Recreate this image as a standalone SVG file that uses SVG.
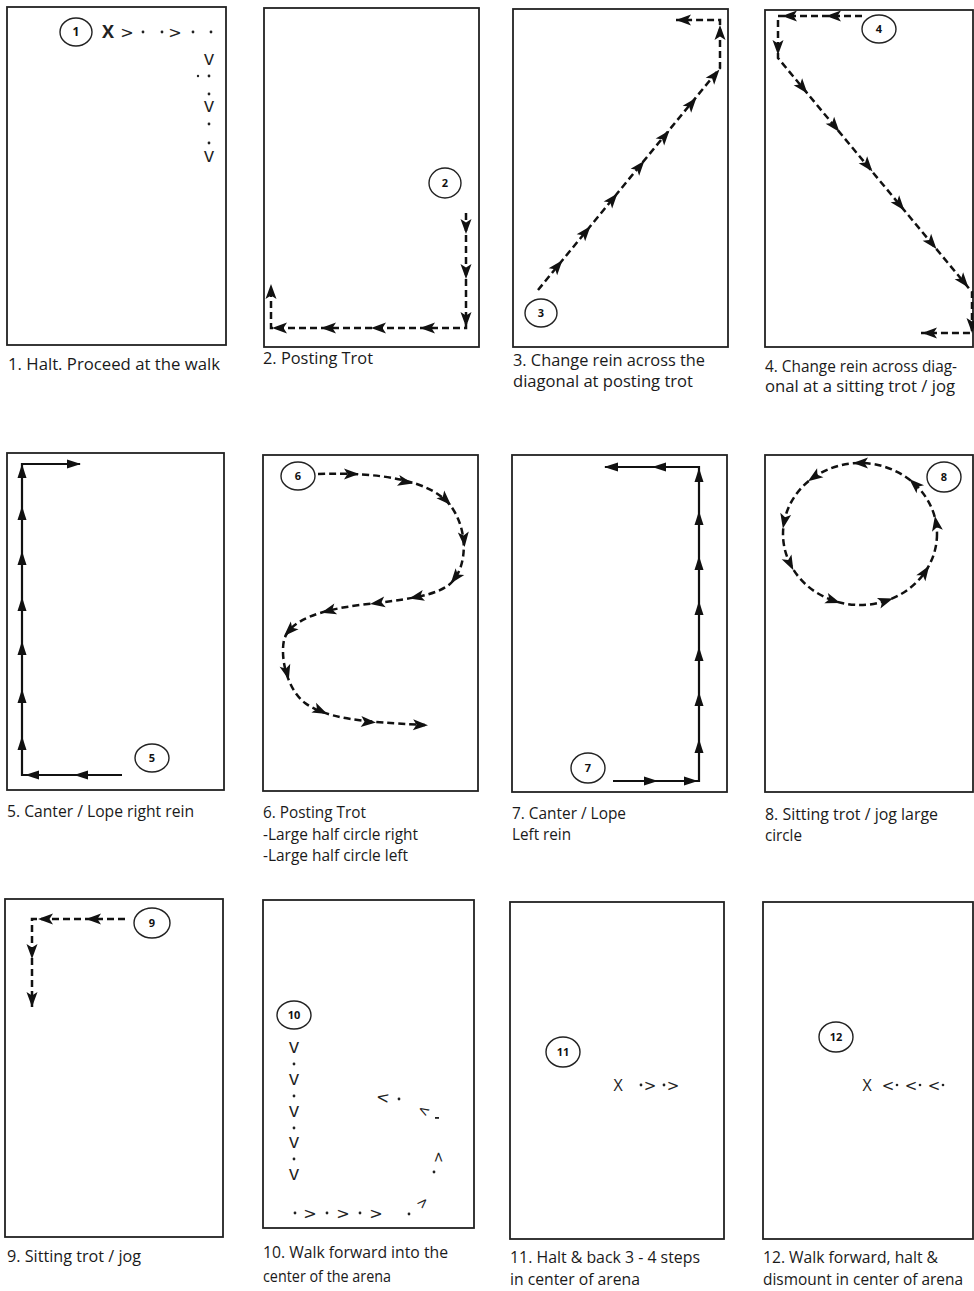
<svg xmlns="http://www.w3.org/2000/svg" width="974" height="1291" viewBox="0 0 974 1291">
<style>
.frame{fill:#fff;stroke:#222;stroke-width:1.8}
.dash{fill:none;stroke:#111;stroke-width:2.5;stroke-dasharray:7 4}
.solid{fill:none;stroke:#111;stroke-width:2.2}
.lab{fill:none;stroke:#222;stroke-width:1.4}
.labt{font-family:"Open Sans","Noto Sans",sans-serif;font-weight:bold;font-size:11px;fill:#111;text-anchor:middle}
.cap{font-family:"Open Sans","Noto Sans",sans-serif;font-size:16px;fill:#1a1a1a}
.x{font-family:"Open Sans","Noto Sans",sans-serif;font-size:16px;fill:#222;text-anchor:middle}
.mk{font-family:"DejaVu Sans",sans-serif;font-size:16px;fill:#222;text-anchor:middle}
.v{font-family:"Open Sans","DejaVu Sans",sans-serif;font-size:20px;fill:#222;text-anchor:middle}
.dot{fill:#222}
</style>
<defs>
<path id="dart" d="M7,0 L-8,-5.5 L-4.5,0 L-8,5.5 Z" fill="#111"/>
<path id="tri" d="M6,0 L-8,-4.5 L-8,4.5 Z" fill="#111"/>
</defs>
<rect width="974" height="1291" fill="#fff"/>

<!-- Panel 1 -->
<g id="panel-1">
<rect class="frame" x="7" y="7" width="219" height="338"/>
<ellipse class="lab" cx="76" cy="32" rx="16" ry="14"/>
<text class="labt" x="76" y="36" style="font-size:12px">1</text>
<text class="x" x="108" y="38.4" style="font-weight:bold;font-size:18px">X</text>
<text class="mk" x="127 175" y="37.8">&gt;&gt;</text>
<g class="dot">
<circle cx="143" cy="32" r="1.4"/><circle cx="162" cy="32" r="1.4"/>
<circle cx="193" cy="32" r="1.4"/><circle cx="211" cy="32" r="1.4"/>
<circle cx="198" cy="76" r="1.2"/><circle cx="209" cy="76" r="1.4"/>
<circle cx="209" cy="94" r="1.4"/><circle cx="209" cy="124" r="1.4"/>
<circle cx="209" cy="143" r="1.4"/>
</g>
<text class="v" x="209" y="65.4">v</text>
<text class="v" x="209" y="112.4">v</text>
<text class="v" x="209" y="162.4">v</text>
<text class="cap" x="8" y="370" textLength="212" lengthAdjust="spacingAndGlyphs">1. Halt. Proceed at the walk</text>
</g>

<!-- Panel 2 -->
<g id="panel-2">
<rect class="frame" x="264" y="8" width="215" height="339"/>
<ellipse class="lab" cx="445" cy="183" rx="16" ry="15"/>
<text class="labt" x="445" y="187">2</text>
<g class="route">
<path class="dash" d="M466,213 L466,328 L271,328 L271,292"/>
<use href="#dart" transform="translate(466,227) rotate(90)"/>
<use href="#dart" transform="translate(466,272) rotate(90)"/>
<use href="#dart" transform="translate(466,320) rotate(90)"/>
<use href="#dart" transform="translate(427,328) rotate(180)"/>
<use href="#dart" transform="translate(378,328) rotate(180)"/>
<use href="#dart" transform="translate(328,328) rotate(180)"/>
<use href="#dart" transform="translate(279,328) rotate(180)"/>
<use href="#dart" transform="translate(271,291) rotate(-90)"/>
</g>
<text class="cap" x="263" y="364" textLength="110" lengthAdjust="spacingAndGlyphs">2. Posting Trot</text>
</g>

<!-- Panel 3 -->
<g id="panel-3">
<rect class="frame" x="513" y="9" width="215" height="338"/>
<ellipse class="lab" cx="541" cy="313" rx="16" ry="14"/>
<text class="labt" x="541" y="317">3</text>
<g class="route">
<path class="dash" d="M538,290 L720,68 L720,20 L676,20"/>
<use href="#dart" transform="translate(558,265.7) rotate(-50.5)"/>
<use href="#dart" transform="translate(586,231.7) rotate(-50.5)"/>
<use href="#dart" transform="translate(613,198.9) rotate(-50.5)"/>
<use href="#dart" transform="translate(640,166.2) rotate(-50.5)"/>
<use href="#dart" transform="translate(665,135.8) rotate(-50.5)"/>
<use href="#dart" transform="translate(692,103.1) rotate(-50.5)"/>
<use href="#dart" transform="translate(715,75) rotate(-50.5)"/>
<use href="#dart" transform="translate(720,32) rotate(-90)"/>
<use href="#dart" transform="translate(683,20) rotate(180)"/>
</g>
<text class="cap" x="513" y="366" textLength="192" lengthAdjust="spacingAndGlyphs">3. Change rein across the</text>
<text class="cap" x="513" y="387" textLength="180" lengthAdjust="spacingAndGlyphs">diagonal at posting trot</text>
</g>

<!-- Panel 4 -->
<g id="panel-4">
<rect class="frame" x="765" y="10" width="208" height="337"/>
<ellipse class="lab" cx="879" cy="29" rx="17" ry="14"/>
<text class="labt" x="879" y="33">4</text>
<g class="route">
<path class="dash" d="M862,16 L778,16 L778,58 L972,292 L972,333 L921,333"/>
<use href="#dart" transform="translate(833,16) rotate(180)"/>
<use href="#dart" transform="translate(789,16) rotate(180)"/>
<use href="#dart" transform="translate(778,48) rotate(90)"/>
<use href="#dart" transform="translate(803,88) rotate(50.3)"/>
<use href="#dart" transform="translate(835,126.5) rotate(50.3)"/>
<use href="#dart" transform="translate(868,166) rotate(50.3)"/>
<use href="#dart" transform="translate(900,205) rotate(50.3)"/>
<use href="#dart" transform="translate(932,243.5) rotate(50.3)"/>
<use href="#dart" transform="translate(964,282) rotate(50.3)"/>
<use href="#dart" transform="translate(972,326) rotate(90)"/>
<use href="#dart" transform="translate(929,333) rotate(180)"/>
</g>
<text class="cap" x="765" y="372" textLength="192" lengthAdjust="spacingAndGlyphs">4. Change rein across diag-</text>
<text class="cap" x="765" y="392" textLength="190" lengthAdjust="spacingAndGlyphs">onal at a sitting trot / jog</text>
</g>

<!-- Panel 5 -->
<g id="panel-5">
<rect class="frame" x="7" y="453" width="217" height="337"/>
<ellipse class="lab" cx="152" cy="758" rx="17" ry="14"/>
<text class="labt" x="152" y="762">5</text>
<g class="route">
<path class="solid" d="M122,775 L22,775 L22,464 L80,464"/>
<use href="#tri" transform="translate(80,775) rotate(180)"/>
<use href="#tri" transform="translate(31,775) rotate(180)"/>
<use href="#tri" transform="translate(22,742) rotate(-90)"/>
<use href="#tri" transform="translate(22,695) rotate(-90)"/>
<use href="#tri" transform="translate(22,647) rotate(-90)"/>
<use href="#tri" transform="translate(22,603) rotate(-90)"/>
<use href="#tri" transform="translate(22,557) rotate(-90)"/>
<use href="#tri" transform="translate(22,512) rotate(-90)"/>
<use href="#tri" transform="translate(22,470) rotate(-90)"/>
<use href="#tri" transform="translate(75,464)"/>
</g>
<text class="cap" x="7" y="817" textLength="187" lengthAdjust="spacingAndGlyphs">5. Canter / Lope right rein</text>
</g>

<!-- Panel 6 -->
<g id="panel-6">
<rect class="frame" x="263" y="455" width="215" height="336"/>
<ellipse class="lab" cx="298" cy="476" rx="17" ry="14"/>
<text class="labt" x="298" y="480">6</text>
<g class="route">
<path class="dash" d="M318,474 C380,472 430,480 450,505 C468,528 468,565 452,582 C438,597 400,600 360,605 C320,610 290,620 284,640 C280,660 288,690 305,703 C325,718 360,722 425,725"/>
<use href="#dart" transform="translate(352,474) rotate(0)"/>
<use href="#dart" transform="translate(406,482) rotate(12)"/>
<use href="#dart" transform="translate(446,500) rotate(45)"/>
<use href="#dart" transform="translate(464,540) rotate(85)"/>
<use href="#dart" transform="translate(455,578) rotate(128)"/>
<use href="#dart" transform="translate(416,597) rotate(168)"/>
<use href="#dart" transform="translate(377,603) rotate(172)"/>
<use href="#dart" transform="translate(328,611) rotate(165)"/>
<use href="#dart" transform="translate(289,631) rotate(135)"/>
<use href="#dart" transform="translate(287,673) rotate(75)"/>
<use href="#dart" transform="translate(321,711) rotate(25)"/>
<use href="#dart" transform="translate(369,722) rotate(4)"/>
<use href="#dart" transform="translate(421,725) rotate(2)"/>
</g>
<text class="cap" x="263" y="818" textLength="103" lengthAdjust="spacingAndGlyphs">6. Posting Trot</text>
<text class="cap" x="263" y="840" textLength="155" lengthAdjust="spacingAndGlyphs">-Large half circle right</text>
<text class="cap" x="263" y="861" textLength="145" lengthAdjust="spacingAndGlyphs">-Large half circle left</text>
</g>

<!-- Panel 7 -->
<g id="panel-7">
<rect class="frame" x="512" y="455" width="215" height="337"/>
<ellipse class="lab" cx="588" cy="768" rx="17" ry="15"/>
<text class="labt" x="588" y="772">7</text>
<g class="route">
<path class="solid" d="M613,781 L699,781 L699,467 L605,467"/>
<use href="#tri" transform="translate(652,781)"/>
<use href="#tri" transform="translate(692,781)"/>
<use href="#tri" transform="translate(699,745) rotate(-90)"/>
<use href="#tri" transform="translate(699,698) rotate(-90)"/>
<use href="#tri" transform="translate(699,653) rotate(-90)"/>
<use href="#tri" transform="translate(699,607) rotate(-90)"/>
<use href="#tri" transform="translate(699,562) rotate(-90)"/>
<use href="#tri" transform="translate(699,517) rotate(-90)"/>
<use href="#tri" transform="translate(699,474) rotate(-90)"/>
<use href="#tri" transform="translate(658,467) rotate(180)"/>
<use href="#tri" transform="translate(610,467) rotate(180)"/>
</g>
<text class="cap" x="512" y="819" textLength="114" lengthAdjust="spacingAndGlyphs">7. Canter / Lope</text>
<text class="cap" x="512" y="840" textLength="59" lengthAdjust="spacingAndGlyphs">Left rein</text>
</g>

<!-- Panel 8 -->
<g id="panel-8">
<rect class="frame" x="765" y="455" width="208" height="337"/>
<ellipse class="lab" cx="944" cy="477" rx="17" ry="15"/>
<text class="labt" x="944" y="481">8</text>
<g class="route">
<ellipse class="dash" cx="860" cy="534" rx="77" ry="71"/>
<use href="#dart" transform="translate(860,463) rotate(180)"/>
<use href="#dart" transform="translate(813.7,477.3) rotate(145)"/>
<use href="#dart" transform="translate(784.2,521.7) rotate(101)"/>
<use href="#dart" transform="translate(790.2,564) rotate(63)"/>
<use href="#dart" transform="translate(833.7,600.7) rotate(18.6)"/>
<use href="#dart" transform="translate(886.3,600.7) rotate(-18.6)"/>
<use href="#dart" transform="translate(925.3,571.6) rotate(-56)"/>
<use href="#dart" transform="translate(936.1,522.9) rotate(-99.7)"/>
<use href="#dart" transform="translate(914.4,483.8) rotate(-137.3)"/>
</g>
<text class="cap" x="765" y="820" textLength="173" lengthAdjust="spacingAndGlyphs">8. Sitting trot / jog large</text>
<text class="cap" x="765" y="841" textLength="37" lengthAdjust="spacingAndGlyphs">circle</text>
</g>

<!-- Panel 9 -->
<g id="panel-9">
<rect class="frame" x="5" y="899" width="218" height="338"/>
<ellipse class="lab" cx="152" cy="923" rx="18" ry="15"/>
<text class="labt" x="152" y="927">9</text>
<g class="route">
<path class="dash" d="M125,919 L32,919 L32,1007"/>
<use href="#dart" transform="translate(93,919) rotate(180)"/>
<use href="#dart" transform="translate(45,919) rotate(180)"/>
<use href="#dart" transform="translate(32,952) rotate(90)"/>
<use href="#dart" transform="translate(32,1000) rotate(90)"/>
</g>
<text class="cap" x="7" y="1262" textLength="134" lengthAdjust="spacingAndGlyphs">9. Sitting trot / jog</text>
</g>

<!-- Panel 10 -->
<g id="panel-10">
<rect class="frame" x="263" y="900" width="211" height="328"/>
<ellipse class="lab" cx="294" cy="1015" rx="17" ry="14"/>
<text class="labt" x="294" y="1019">10</text>
<text class="v" x="294" y="1053.4">v</text>
<text class="v" x="294" y="1085.4">v</text>
<text class="v" x="294" y="1117.4">v</text>
<text class="v" x="294" y="1148.4">v</text>
<text class="v" x="294" y="1180.4">v</text>
<g class="dot">
<circle cx="294" cy="1064" r="1.4"/><circle cx="294" cy="1096" r="1.4"/>
<circle cx="294" cy="1128" r="1.4"/><circle cx="294" cy="1159" r="1.4"/>
<circle cx="295" cy="1213" r="1.4"/><circle cx="327" cy="1213" r="1.4"/>
<circle cx="360" cy="1213" r="1.4"/><circle cx="409" cy="1214" r="1.4"/>
<circle cx="434" cy="1172" r="1.4"/><circle cx="399" cy="1099" r="1.4"/>
<rect x="435" y="1117" width="4" height="1.8"/>
</g>
<text class="mk" x="310 343 376" y="1218.8">&gt;&gt;&gt;</text>
<text class="mk" x="422" y="1207.5" transform="rotate(-45 422 1202)" style="font-size:14px">&gt;</text>
<text class="mk" x="438" y="1162" transform="rotate(-90 438 1157)" style="font-size:14px">&gt;</text>
<text class="mk" x="424" y="1115" transform="rotate(30 424 1110)" style="font-size:14px">&lt;</text>
<text class="mk" x="383" y="1102.8" transform="rotate(8 383 1097)">&lt;</text>
<text class="cap" x="263" y="1258" textLength="185" lengthAdjust="spacingAndGlyphs">10. Walk forward into the</text>
<text class="cap" x="263" y="1282" textLength="128" lengthAdjust="spacingAndGlyphs">center of the arena</text>
</g>

<!-- Panel 11 -->
<g id="panel-11">
<rect class="frame" x="510" y="902" width="214" height="337"/>
<ellipse class="lab" cx="563" cy="1052" rx="17" ry="15"/>
<text class="labt" x="563" y="1056">11</text>
<text class="x" x="618" y="1091">X</text>
<g class="dot"><circle cx="641" cy="1085" r="1.4"/><circle cx="664" cy="1085" r="1.4"/></g>
<text class="mk" x="650 673" y="1090.5" style="font-size:15px">&gt;&gt;</text>
<text class="cap" x="510" y="1263" textLength="190" lengthAdjust="spacingAndGlyphs">11. Halt &amp; back 3 - 4 steps</text>
<text class="cap" x="510" y="1285" textLength="130" lengthAdjust="spacingAndGlyphs">in center of arena</text>
</g>

<!-- Panel 12 -->
<g id="panel-12">
<rect class="frame" x="763" y="902" width="210" height="337"/>
<ellipse class="lab" cx="836" cy="1037" rx="17" ry="15"/>
<text class="labt" x="836" y="1041">12</text>
<text class="x" x="867" y="1091">X</text>
<text class="mk" x="888 911 934" y="1090.5" style="font-size:15px">&lt;&lt;&lt;</text>
<g class="dot"><circle cx="897" cy="1085" r="1.3"/><circle cx="920" cy="1085" r="1.3"/><circle cx="943" cy="1085" r="1.3"/></g>
<text class="cap" x="763" y="1263" textLength="175" lengthAdjust="spacingAndGlyphs">12. Walk forward, halt &amp;</text>
<text class="cap" x="763" y="1285" textLength="200" lengthAdjust="spacingAndGlyphs">dismount in center of arena</text>
</g>
</svg>
